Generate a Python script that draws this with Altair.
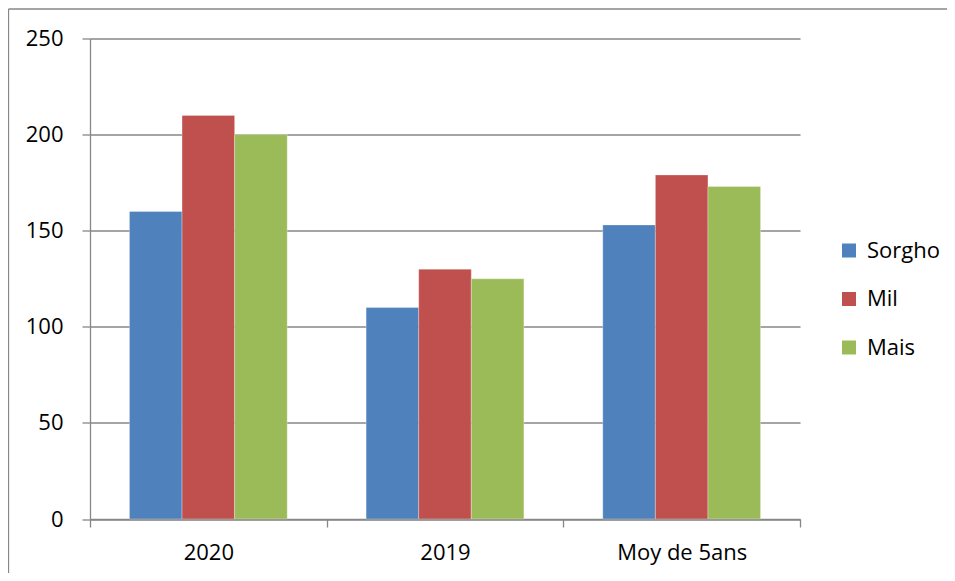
import altair as alt
import pandas as pd

categories = ["2020", "2019", "Moy de 5ans"]
series = ["Sorgho", "Mil", "Mais"]
sorgho = [160, 110, 153]
mil = [210, 130, 179]
mais = [200, 125, 173]
colors = ["#4F81BD", "#C0504D", "#9BBB59"]
y_ticks = [0, 50, 100, 150, 200, 250]

rows = []
for name, vals in zip(series, [sorgho, mil, mais]):
    for c, v in zip(categories, vals):
        rows.append({"cat": c, "series": name, "value": v})
df = pd.DataFrame(rows)

FONT = "Open Sans"
GRAY = "#878787"

bars = alt.Chart(df).mark_bar(stroke="white", strokeWidth=0.6, strokeOpacity=0.5).encode(
    x=alt.X("cat:N", sort=categories,
            scale=alt.Scale(paddingInner=0, paddingOuter=0),
            axis=alt.Axis(title=None, labelAngle=0, tickBand="extent", grid=False,
                          domainColor=GRAY, domainWidth=1.3, tickColor=GRAY, tickWidth=1.3,
                          tickSize=8, labelPadding=15, labelFont=FONT, labelFontSize=22,
                          labelColor="#000000")),
    xOffset=alt.XOffset("series:N", sort=series,
                        scale=alt.Scale(paddingInner=0, paddingOuter=0.75)),
    y=alt.Y("value:Q", scale=alt.Scale(domain=[0, 250], nice=False),
            axis=alt.Axis(title=None, values=y_ticks, grid=True, gridColor=GRAY, gridWidth=1.3,
                          domainColor=GRAY, domainWidth=1.3, tickColor=GRAY, tickWidth=1.3,
                          tickSize=8, labelPadding=19, labelFont=FONT, labelFontSize=22,
                          labelColor="#000000")),
    color=alt.Color("series:N", sort=series,
                    scale=alt.Scale(domain=series, range=colors),
                    legend=alt.Legend(title=None, orient="none", legendX=748, legendY=201,
                                      symbolType="square", symbolSize=196, symbolStrokeWidth=0,
                                      labelFont=FONT, labelFontSize=22, labelColor="#000000",
                                      labelOffset=7, rowPadding=26.5, padding=0)),
)

border = alt.Chart(alt.Data(values=[{}])).mark_rule(color=GRAY, strokeWidth=1.3).encode(
    x=alt.value(-81.5), y=alt.value(-29.5), y2=alt.value(560)
)
border_top = alt.Chart(alt.Data(values=[{}])).mark_rule(color=GRAY, strokeWidth=1.3).encode(
    x=alt.value(-81.5), x2=alt.value(900), y=alt.value(-29.5)
)

chart = alt.layer(bars, border, border_top).properties(
    width=710, height=480.5,
    autosize=alt.AutoSizeParams(type="none"),
    padding={"left": 82, "top": 30.5, "right": 147, "bottom": 54},
).configure_view(stroke=None)

chart.save("out.html", embed_options={"renderer": "svg", "actions": False})
